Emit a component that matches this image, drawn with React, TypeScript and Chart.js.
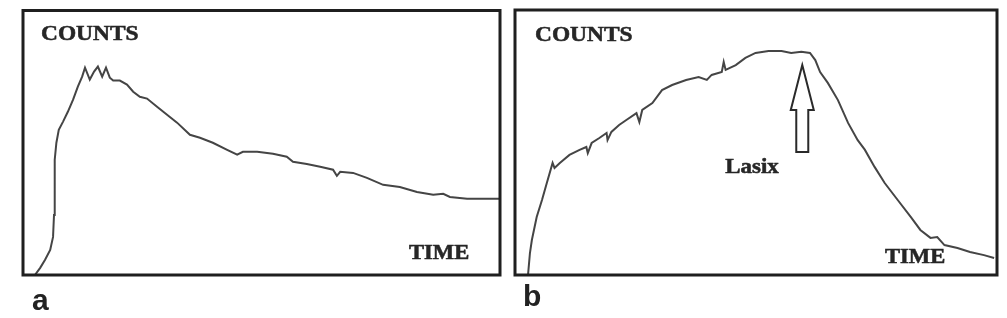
import { useEffect, useRef } from "react";
import { Chart, registerables } from "chart.js";

Chart.register(...registerables);

// Panel a: renogram without diuretic (time and counts in relative units 0..100)
const timeA = [2.5, 3.6, 4.6, 5.7, 6.3, 6.5, 6.6, 6.7, 7.0, 7.5, 8.4, 9.4, 10.5, 11.5, 12.4, 13.0, 14.0, 14.9, 15.7, 16.6, 17.4, 18.2, 18.9, 20.3, 21.8, 23.1, 24.5, 26.0, 28.1, 30.2, 32.3, 35.0, 37.1, 39.8, 42.8, 44.9, 46.1, 49.1, 52.4, 55.3, 56.6, 59.5, 62.3, 65.0, 65.8, 66.5, 69.2, 72.1, 75.5, 79.0, 82.6, 86.0, 88.1, 89.5, 93.1, 96.4, 99.8];
const countsA = [0, 2.7, 5.7, 9.5, 14.4, 22.7, 34.1, 43.6, 50.0, 54.9, 58.0, 61.7, 66.3, 71.2, 75.0, 78.4, 73.9, 76.9, 78.8, 75.0, 78.4, 74.6, 73.5, 73.5, 72.0, 69.3, 67.4, 66.7, 63.6, 60.6, 57.6, 53.0, 51.9, 50.0, 47.3, 45.5, 46.6, 46.6, 45.8, 44.7, 42.8, 42.0, 40.9, 39.8, 37.5, 39.0, 38.6, 36.7, 34.1, 33.3, 31.4, 30.3, 30.7, 29.5, 28.8, 28.8, 28.8];

// Panel b: renogram with Lasix
const timeB = [2.7, 3.1, 3.5, 4.5, 5.6, 6.6, 7.8, 8.2, 9.3, 11.3, 13.4, 14.8, 15.1, 15.9, 17.5, 19.0, 19.2, 20.0, 21.6, 23.1, 25.2, 25.8, 26.4, 28.5, 30.5, 32.6, 35.5, 38.1, 39.8, 40.8, 42.9, 43.3, 43.7, 45.8, 47.8, 49.9, 52.6, 55.3, 57.3, 59.4, 61.2, 62.3, 63.3, 64.9, 67.0, 69.1, 71.1, 72.6, 74.6, 76.7, 79.4, 82.1, 84.1, 86.2, 87.6, 89.1, 91.8, 94.4, 97.3, 99.4];
const countsB = [0, 8.3, 13.2, 21.9, 28.3, 34.7, 42.3, 40.4, 42.3, 45.3, 47.2, 48.3, 46.0, 49.8, 51.7, 53.6, 50.9, 54.0, 56.6, 58.5, 61.1, 57.7, 62.3, 64.9, 69.8, 71.7, 73.6, 74.7, 73.6, 75.5, 76.6, 80.4, 77.4, 79.2, 81.9, 83.8, 84.5, 84.5, 83.8, 84.2, 83.8, 81.1, 76.6, 72.5, 66.0, 57.4, 50.9, 47.2, 40.8, 34.7, 28.3, 21.9, 17.0, 14.0, 14.3, 11.3, 10.2, 8.7, 7.5, 6.4];

// Lasix injection marker (data units): time, arrow tip, head base, tail
const lasixTime = 59.6;
const lasixArrow = [79.2, 62.3, 46.4];

const Y_LABEL = "COUNTS";
const X_LABEL = "TIME";
const LASIX_LABEL = "Lasix";
const panelLabels = ["a", "b"];

type PanelCfg = {
  times: number[];
  counts: number[];
  width: number;
  left: number;
  padding: { left: number; right: number; top: number; bottom: number };
  countsPos: [number, number];
  timePos: [number, number];
  label: string;
  labelPos: [number, number];
  lasix: boolean;
};

const SERIF = "'Liberation Serif', 'Times New Roman', serif";
const TEXT_COLOR = "#262626";

function wideText(ctx: CanvasRenderingContext2D, text: string, x: number, y: number, sx: number) {
  ctx.save();
  ctx.translate(x, y);
  ctx.scale(sx, 1);
  ctx.fillText(text, 0, 0);
  ctx.lineWidth = 0.5;
  ctx.strokeStyle = TEXT_COLOR;
  ctx.strokeText(text, 0, 0);
  ctx.restore();
}

function Panel({ cfg }: { cfg: PanelCfg }) {
  const ref = useRef<HTMLCanvasElement>(null);
  useEffect(() => {
    const canvas = ref.current!;
    const deco = {
      id: "deco",
      afterDraw(chart: any) {
        const { ctx, chartArea: a, scales } = chart;
        ctx.save();
        // frame
        ctx.strokeStyle = "#1f1f1f";
        ctx.lineWidth = 3;
        ctx.strokeRect(a.left, a.top, a.right - a.left, a.bottom - a.top);
        // texts
        ctx.fillStyle = TEXT_COLOR;
        ctx.textAlign = "left";
        ctx.textBaseline = "alphabetic";
        ctx.font = `bold 20px ${SERIF}`;
        wideText(ctx, Y_LABEL, a.left + cfg.countsPos[0], a.top + cfg.countsPos[1], 1.17);
        ctx.font = `bold 20px ${SERIF}`;
        wideText(ctx, X_LABEL, a.left + cfg.timePos[0], a.bottom - cfg.timePos[1], 1.13);
        if (cfg.lasix) {
          const cx = scales.x.getPixelForValue(lasixTime);
          const tip = scales.y.getPixelForValue(lasixArrow[0]);
          const base = scales.y.getPixelForValue(lasixArrow[1]);
          const tail = scales.y.getPixelForValue(lasixArrow[2]);
          ctx.beginPath();
          ctx.moveTo(cx, tip);
          ctx.lineTo(cx + 11.5, base);
          ctx.lineTo(cx + 6, base);
          ctx.lineTo(cx + 6, tail);
          ctx.lineTo(cx - 6, tail);
          ctx.lineTo(cx - 6, base);
          ctx.lineTo(cx - 11.5, base);
          ctx.closePath();
          ctx.fillStyle = "#ffffff";
          ctx.fill();
          ctx.strokeStyle = "#2a2a2a";
          ctx.lineWidth = 2;
          ctx.lineJoin = "miter";
          ctx.stroke();
          ctx.fillStyle = TEXT_COLOR;
          ctx.font = `bold 21px ${SERIF}`;
          wideText(ctx, LASIX_LABEL, cx - 77, tail + 21, 1.09);
        }
        // panel letter
        ctx.fillStyle = "#222";
        ctx.font = "bold 30px 'Liberation Sans', Arial, sans-serif";
        ctx.fillText(cfg.label, a.left + cfg.labelPos[0], a.bottom + cfg.labelPos[1]);
        ctx.restore();
      },
    };
    const chart = new Chart(canvas, {
      type: "line",
      data: {
        datasets: [
          {
            data: cfg.times.map((t, i) => ({ x: t, y: cfg.counts[i] })),
            borderColor: "#454545",
            borderWidth: 2,
            pointRadius: 0,
            tension: 0,
            fill: false,
          },
        ],
      },
      options: {
        animation: false,
        responsive: false,
        events: [],
        layout: { padding: cfg.padding },
        plugins: { legend: { display: false }, tooltip: { enabled: false } },
        scales: {
          x: { type: "linear", min: 0, max: 100, display: false },
          y: { type: "linear", min: 0, max: 100, display: false },
        },
      },
      plugins: [deco],
    } as any);
    return () => chart.destroy();
  }, [cfg]);
  return (
    <canvas
      ref={ref}
      width={cfg.width}
      height={318}
      style={{ position: "absolute", left: cfg.left, top: 0, width: cfg.width, height: 318 }}
    />
  );
}

const panelA: PanelCfg = {
  times: timeA,
  counts: countsA,
  width: 507,
  left: 0,
  padding: { left: 23, right: 7, top: 10.5, bottom: 43 },
  countsPos: [18, 29],
  timePos: [386, 16],
  label: panelLabels[0],
  labelPos: [9, 35],
  lasix: false,
};

const panelB: PanelCfg = {
  times: timeB,
  counts: countsB,
  width: 500,
  left: 507,
  padding: { left: 8, right: 10, top: 10, bottom: 43 },
  countsPos: [20, 30.5],
  timePos: [370, 12],
  label: panelLabels[1],
  labelPos: [8, 31],
  lasix: true,
};

export default function App() {
  return (
    <div style={{ position: "absolute", left: 0, top: 0, width: 1007, height: 318, background: "#fff" }}>
      <Panel cfg={panelA} />
      <Panel cfg={panelB} />
    </div>
  );
}
